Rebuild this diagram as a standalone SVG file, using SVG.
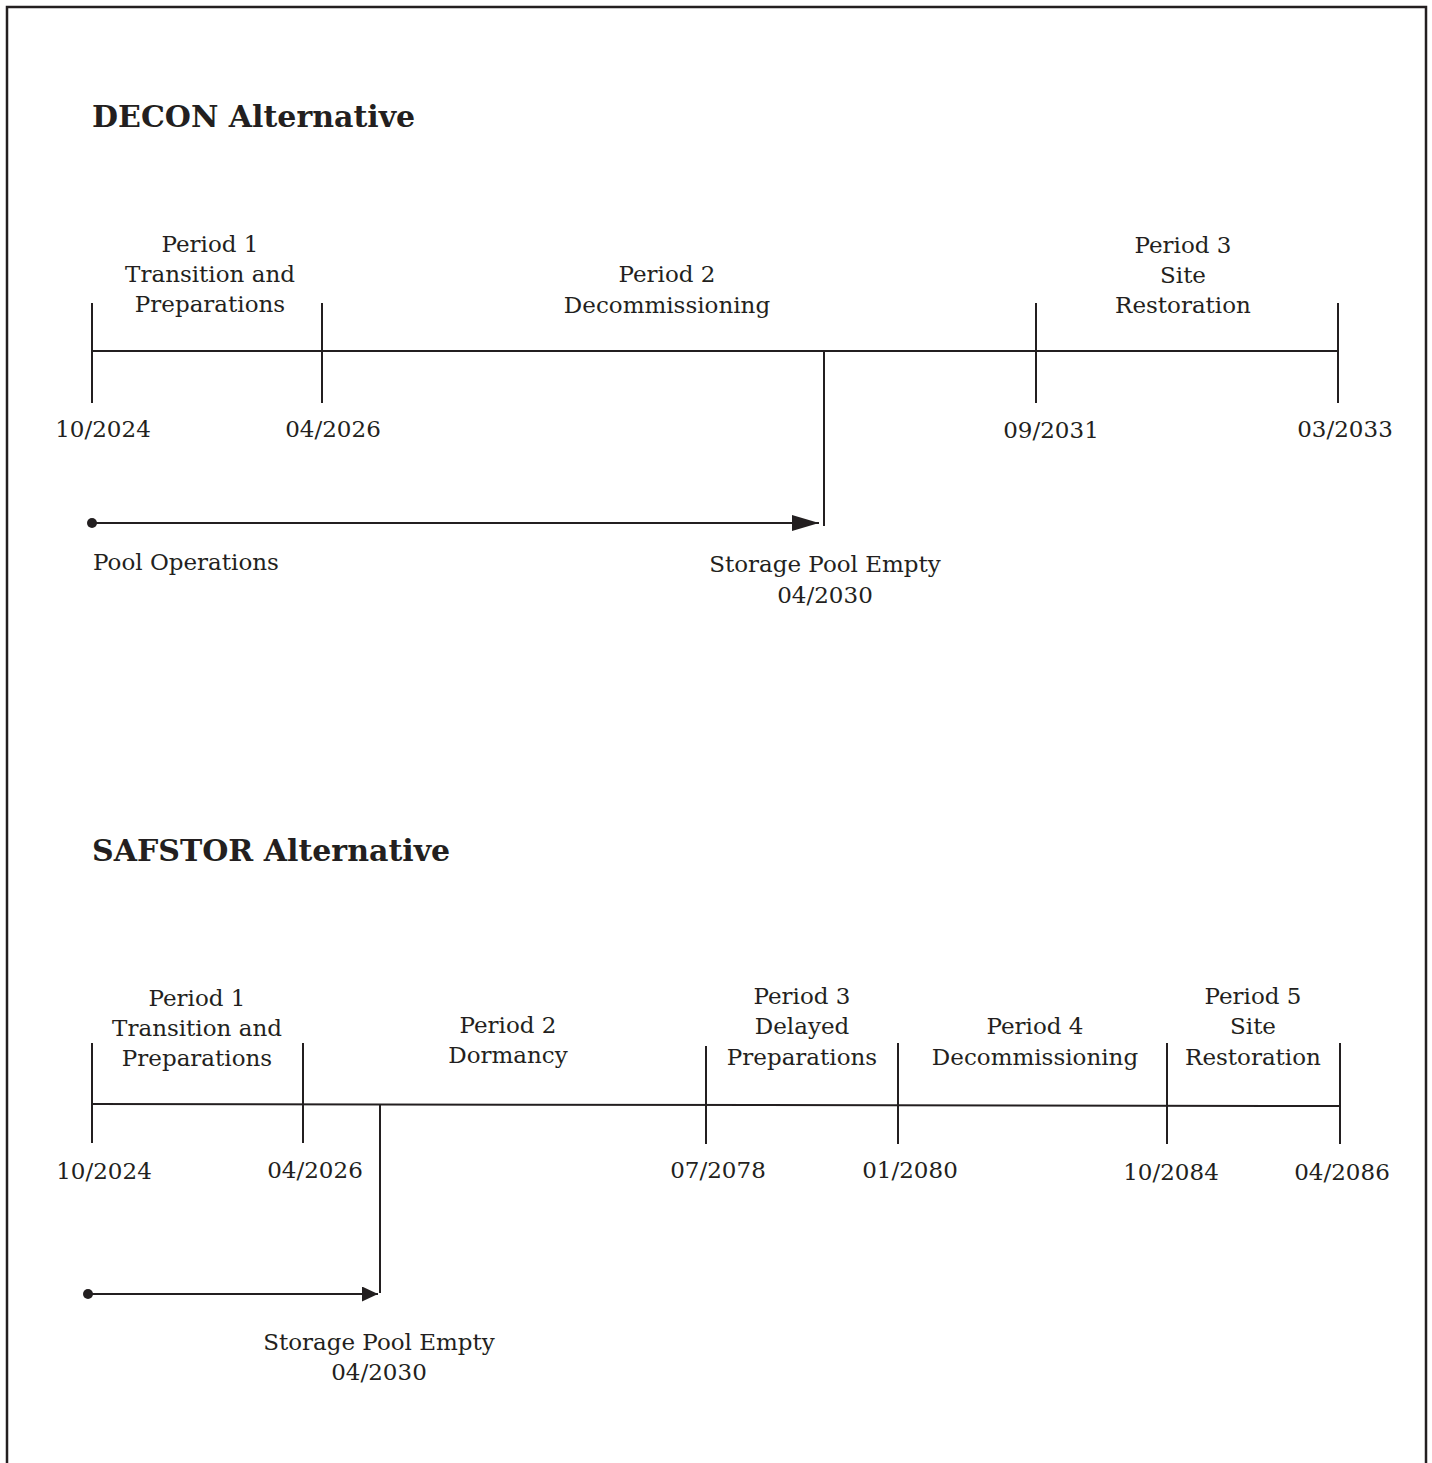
<svg xmlns="http://www.w3.org/2000/svg" width="1432" height="1463" viewBox="0 0 1432 1463">
<style>
text{font-family:"DejaVu Serif","Liberation Serif",serif;font-size:23px;fill:#231f20}
.t{font-weight:bold;font-size:30px}
.m{text-anchor:middle}
.ln{stroke:#231f20;stroke-width:2;fill:none}
</style>
<defs>
<marker id="ah1" viewBox="0 0 27 16" refX="27" refY="8" markerWidth="27" markerHeight="16" markerUnits="userSpaceOnUse" orient="auto"><path d="M0,0 L27,8 L0,16 z" fill="#231f20"/></marker>
<marker id="ah2" viewBox="0 0 16 15" refX="16" refY="7.5" markerWidth="16" markerHeight="15" markerUnits="userSpaceOnUse" orient="auto"><path d="M0,0 L16,7.5 L0,15 z" fill="#231f20"/></marker>
<marker id="dot" viewBox="0 0 10 10" refX="5" refY="5" markerWidth="10" markerHeight="10" markerUnits="userSpaceOnUse"><circle cx="5" cy="5" r="5" fill="#231f20"/></marker>
</defs>
<rect width="1432" height="1463" fill="#fff"/>
<rect x="7" y="7" width="1419" height="1480" fill="none" stroke="#231f20" stroke-width="2.5"/>

<g id="decon">
<text id="decon-title" class="t" x="92" y="127">DECON Alternative</text>
<g id="decon-p1"><text class="m" x="210" y="252">Period 1</text><text class="m" x="210" y="282">Transition and</text><text class="m" x="210" y="312">Preparations</text></g>
<g id="decon-p2"><text class="m" x="667" y="282">Period 2</text><text class="m" x="667" y="313">Decommissioning</text></g>
<g id="decon-p3"><text class="m" x="1183" y="253">Period 3</text><text class="m" x="1183" y="283">Site</text><text class="m" x="1183" y="313">Restoration</text></g>
<g id="decon-dates">
<text class="m" x="103" y="437">10/2024</text>
<text class="m" x="333" y="437">04/2026</text>
<text class="m" x="1051" y="438">09/2031</text>
<text class="m" x="1345" y="437">03/2033</text>
</g>
<text id="decon-pool" x="93" y="570">Pool Operations</text>
<g id="decon-empty"><text class="m" x="825" y="572">Storage Pool Empty</text><text class="m" x="825" y="603">04/2030</text></g>
</g>

<g id="safstor">
<text id="safstor-title" class="t" x="92" y="861">SAFSTOR Alternative</text>
<g id="saf-p1"><text class="m" x="197" y="1006">Period 1</text><text class="m" x="197" y="1036">Transition and</text><text class="m" x="197" y="1066">Preparations</text></g>
<g id="saf-p2"><text class="m" x="508" y="1033">Period 2</text><text class="m" x="508" y="1063">Dormancy</text></g>
<g id="saf-p3"><text class="m" x="802" y="1004">Period 3</text><text class="m" x="802" y="1034">Delayed</text><text class="m" x="802" y="1065">Preparations</text></g>
<g id="saf-p4"><text class="m" x="1035" y="1034">Period 4</text><text class="m" x="1035" y="1065">Decommissioning</text></g>
<g id="saf-p5"><text class="m" x="1253" y="1004">Period 5</text><text class="m" x="1253" y="1034">Site</text><text class="m" x="1253" y="1065">Restoration</text></g>
<g id="saf-dates">
<text class="m" x="104" y="1179">10/2024</text>
<text class="m" x="315" y="1178">04/2026</text>
<text class="m" x="718" y="1178">07/2078</text>
<text class="m" x="910" y="1178">01/2080</text>
<text class="m" x="1171" y="1180">10/2084</text>
<text class="m" x="1342" y="1180">04/2086</text>
</g>
<g id="saf-empty"><text class="m" x="379" y="1350">Storage Pool Empty</text><text class="m" x="379" y="1380">04/2030</text></g>
</g>

<g id="connectors" class="ln">
<path d="M92,351 H1338"/>
<path d="M92,303 V403 M322,303 V403 M1036,303 V403 M1338,303 V403"/>
<path d="M824,352 V526"/>
<path d="M92,523 H819" marker-start="url(#dot)" marker-end="url(#ah1)"/>
<path d="M92,1104 L1340,1106"/>
<path d="M92,1043 V1143 M303,1043 V1143 M706,1046 V1144 M898,1043 V1144 M1167,1043 V1144 M1340,1043 V1144"/>
<path d="M380,1105 V1293"/>
<path d="M88,1294 H378" marker-start="url(#dot)" marker-end="url(#ah2)"/>
</g>
</svg>
